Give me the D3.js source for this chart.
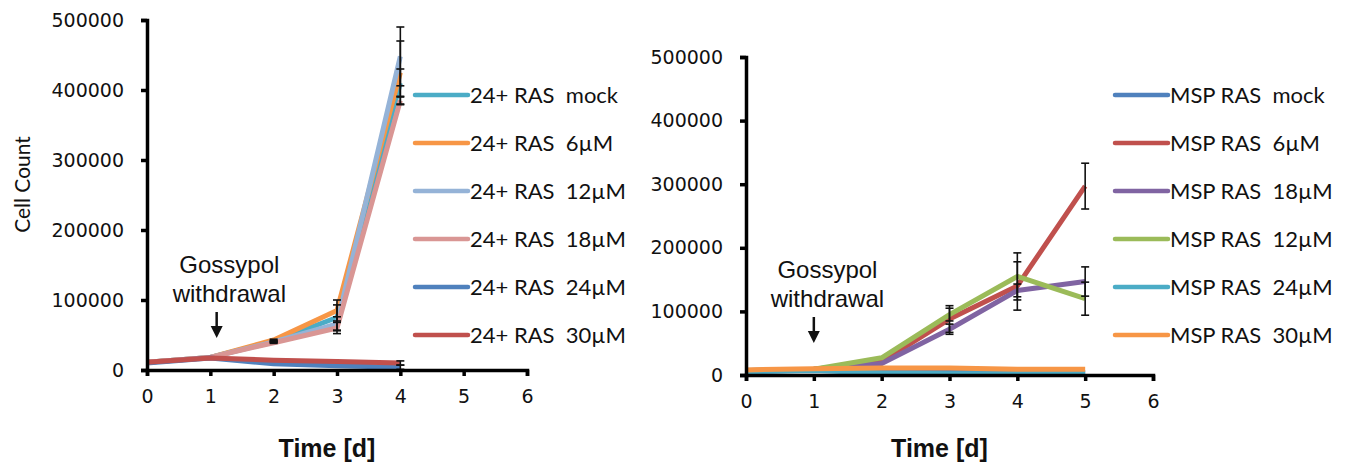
<!DOCTYPE html>
<html>
<head>
<meta charset="utf-8">
<script src="https://cdn.jsdelivr.net/npm/d3@7"></script>
<style>
  html, body { margin: 0; padding: 0; background: #ffffff; }
  svg { display: block; }
</style>
</head>
<body>
<svg id="chart" width="1347" height="467"></svg>
<script>
// ---------------- DATA ----------------
const yTicks = [0, 100000, 200000, 300000, 400000, 500000];
const xTicks = [0, 1, 2, 3, 4, 5, 6];

// Left panel: 24+ RAS
const daysLeft = [0, 1, 2, 3, 4];
const leftNames = ["24+ RAS  mock", "24+ RAS  6µM", "24+ RAS  12µM", "24+ RAS  18µM", "24+ RAS  24µM", "24+ RAS  30µM"];
const leftColors = ["#4BACC6", "#F79646", "#95B3D7", "#D99694", "#4F81BD", "#C0504D"];
const left_mock  = [11000, 18000, 41000, 75000, 410000];
const left_6uM   = [11000, 18000, 43000, 85000, 425000];
const left_12uM  = [11000, 18000, 40000, 66000, 448000];
const left_18uM  = [11000, 18000, 39000, 60000, 385000];
const left_24uM  = [10000, 17000, 9000, 6000, 4000];
const left_30uM  = [11000, 17000, 14000, 12000, 10000];
const leftErr_mock = [0, 0, 1000, 18000, 20000];
const leftErr_6uM  = [0, 0, 1000, 15000, 45000];
const leftErr_12uM = [0, 0, 1000, 10000, 42000];
const leftErr_18uM = [0, 0, 1000, 8000, 6000];
const leftErr_24uM = [0, 0, 0, 0, 3000];
const leftErr_30uM = [0, 0, 0, 0, 3000];

// Right panel: MSP RAS
const daysRight = [0, 1, 2, 3, 4, 5];
const rightNames = ["MSP RAS  mock", "MSP RAS  6µM", "MSP RAS  18µM", "MSP RAS  12µM", "MSP RAS  24µM", "MSP RAS  30µM"];
const rightColors = ["#4F81BD", "#C0504D", "#8064A2", "#9BBB59", "#4BACC6", "#F79646"];
const right_mock = [6000, 8000, 5000, 4000, 4000, 4000];
const right_6uM  = [7000, 9000, 21000, 88000, 140000, 297000];
const right_18uM = [7000, 9000, 18000, 72000, 133000, 147000];
const right_12uM = [7000, 9000, 27000, 95000, 155000, 120000];
const right_24uM = [5000, 7000, 3000, 2000, 2000, 2000];
const right_30uM = [8000, 10000, 11000, 11000, 9000, 9000];
const rightErr_mock = [0, 0, 0, 0, 0, 0];
const rightErr_6uM  = [0, 0, 0, 21000, 38000, 36000];
const rightErr_18uM = [0, 0, 0, 8000, 10000, 23000];
const rightErr_12uM = [0, 0, 0, 10000, 37000, 26000];
const rightErr_24uM = [0, 0, 0, 0, 0, 0];
const rightErr_30uM = [0, 0, 0, 0, 0, 0];

// ---------------- DRAW ----------------
const svg = d3.select("#chart");

const panels = [
  {
    days: daysLeft, names: leftNames, colors: leftColors,
    values: [left_mock, left_6uM, left_12uM, left_18uM, left_24uM, left_30uM],
    errs: [leftErr_mock, leftErr_6uM, leftErr_12uM, leftErr_18uM, leftErr_24uM, leftErr_30uM],
    x0: 147, x1: 527, yTop: 20, yBot: 370,
    legendX: 415, titleY: true,
    annX: 1.3, annArrowX: 1.1
  },
  {
    days: daysRight, names: rightNames, colors: rightColors,
    values: [right_mock, right_6uM, right_18uM, right_12uM, right_24uM, right_30uM],
    errs: [rightErr_mock, rightErr_6uM, rightErr_18uM, rightErr_12uM, rightErr_24uM, rightErr_30uM],
    x0: 746, x1: 1153, yTop: 57, yBot: 375,
    legendX: 1115, titleY: false,
    annX: 1.2, annArrowX: 1.0
  }
];

panels.forEach(p => {
  const x = d3.scaleLinear().domain([0, 6]).range([p.x0, p.x1]);
  const y = d3.scaleLinear().domain([0, 500000]).range([p.yBot, p.yTop]);
  const g = svg.append("g");

  // series lines
  const line = d3.line().x((d, i) => x(p.days[i])).y(d => y(d));
  p.values.forEach((vals, si) => {
    g.append("path")
      .datum(vals)
      .attr("d", line)
      .attr("fill", "none")
      .attr("stroke", p.colors[si])
      .attr("stroke-width", 5)
      .attr("stroke-linejoin", "round");
  });

  // error bars
  p.values.forEach((vals, si) => {
    vals.forEach((v, i) => {
      const e = p.errs[si][i];
      if (!e) return;
      const cx = x(p.days[i]);
      const eg = g.append("g").attr("stroke", "#111").attr("stroke-width", 1.6);
      eg.append("line").attr("x1", cx).attr("x2", cx).attr("y1", y(v + e)).attr("y2", y(v - e));
      eg.append("line").attr("x1", cx - 4).attr("x2", cx + 4).attr("y1", y(v + e)).attr("y2", y(v + e));
      eg.append("line").attr("x1", cx - 4).attr("x2", cx + 4).attr("y1", y(v - e)).attr("y2", y(v - e));
    });
  });

  // axes
  const yAxis = d3.axisLeft(y).tickValues(yTicks).tickSize(6).tickPadding(17).tickFormat(d3.format("d"));
  const gy = g.append("g").attr("transform", `translate(${p.x0},0)`).call(yAxis);
  const xAxis = d3.axisBottom(x).tickValues(xTicks).tickSize(6).tickPadding(14).tickFormat(d3.format("d"));
  const gx = g.append("g").attr("transform", `translate(0,${p.yBot})`).call(xAxis);
  [gx, gy].forEach(a => {
    a.select(".domain").attr("stroke", "#000").attr("stroke-width", 3.5);
    a.selectAll(".tick line").attr("stroke", "#000").attr("stroke-width", 3.5);
    a.selectAll(".tick text")
      .attr("fill", "#111")
      .style("font-family", "'DejaVu Sans', Verdana, sans-serif")
      .style("font-size", "19px");
  });

  // x title
  g.append("text")
    .attr("x", (x(0) + x(6)) / 2 - 10)
    .attr("y", 457)
    .attr("text-anchor", "middle")
    .style("font-family", "'Liberation Sans', Arial, sans-serif")
    .style("font-weight", "bold")
    .style("font-size", "25px")
    .attr("fill", "#111")
    .text("Time [d]");

  if (p.titleY) {
    g.append("text")
      .attr("transform", `translate(30,${y(265000)}) rotate(-90)`)
      .attr("text-anchor", "middle")
      .style("font-family", "Lato, 'Open Sans', sans-serif")
      .style("font-size", "21px")
      .attr("fill", "#111")
      .text("Cell Count");
  }

  // annotation
  const ax = x(p.annX), arx = x(p.annArrowX);
  const a = g.append("g").attr("fill", "#111")
    .style("font-family", "'Liberation Sans', Arial, sans-serif")
    .style("font-size", "24px");
  a.append("text").attr("x", ax).attr("y", p.yBot - 97).attr("text-anchor", "middle").text("Gossypol");
  a.append("text").attr("x", ax).attr("y", p.yBot - 68).attr("text-anchor", "middle").text("withdrawal");
  a.append("line").attr("x1", arx).attr("x2", arx).attr("y1", p.yBot - 58).attr("y2", p.yBot - 42)
    .attr("stroke", "#111").attr("stroke-width", 2.5);
  a.append("path")
    .attr("d", `M${arx - 6},${p.yBot - 44} L${arx + 6},${p.yBot - 44} L${arx},${p.yBot - 32} Z`)
    .attr("fill", "#111");

  // legend
  const lg = g.append("g");
  p.names.forEach((n, i) => {
    const ly = 95 + i * 48;
    lg.append("line").attr("x1", p.legendX).attr("x2", p.legendX + 53).attr("y1", ly).attr("y2", ly)
      .attr("stroke", p.colors[i]).attr("stroke-width", 4.5).attr("stroke-linecap", "round");
    lg.append("text").attr("x", p.legendX + 55).attr("y", ly + 7.5)
      .style("font-family", "Lato, 'Open Sans', sans-serif")
      .style("font-size", "22px")
      .attr("fill", "#111")
      .attr("xml:space", "preserve")
      .style("white-space", "pre")
      .text(n);
  });
});
</script>
</body>
</html>
